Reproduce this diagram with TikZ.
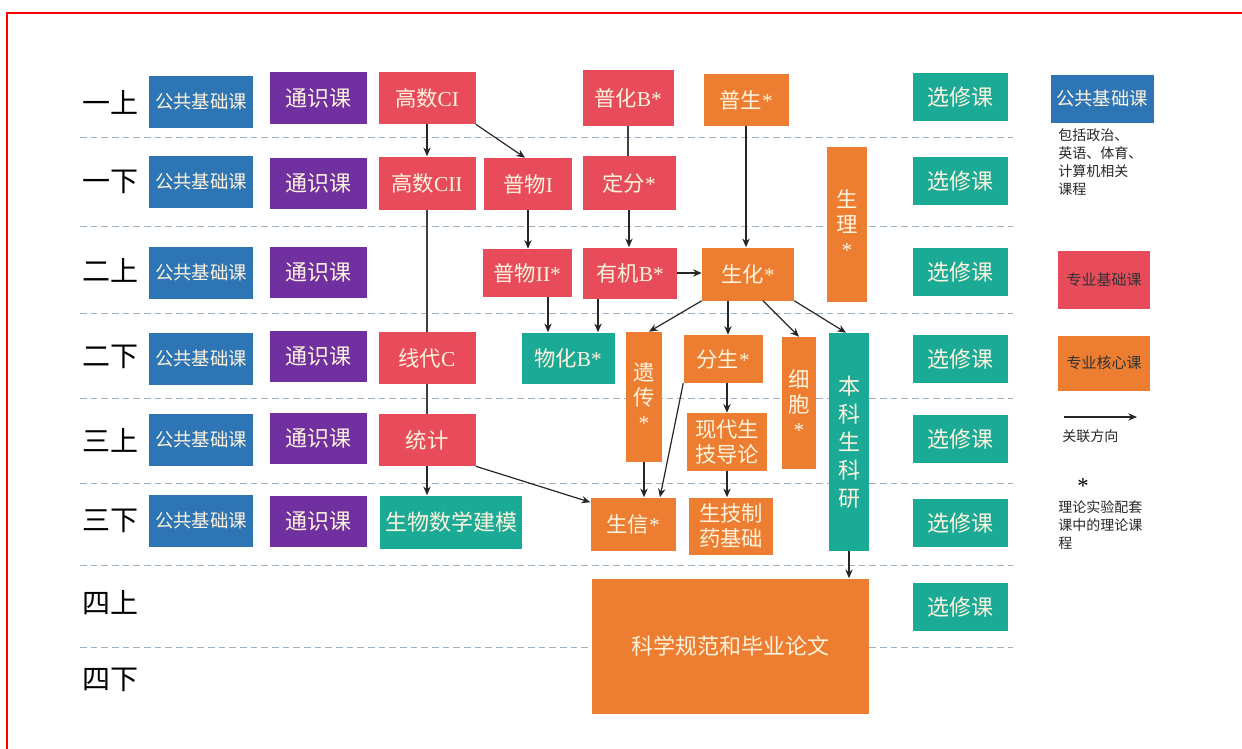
\documentclass[tikz,border=0pt]{standalone}
\usepackage{fontspec}
\setmainfont{Noto Sans CJK SC}
\newfontfamily\latserif{Liberation Serif}
\newcommand\serifpart[1]{{\latserif #1}}
\usetikzlibrary{arrows.meta,calc}
\definecolor{pubblue}{HTML}{2E75B6}
\definecolor{genpurple}{HTML}{7030A0}
\definecolor{basered}{HTML}{E84C5B}
\definecolor{coreorange}{HTML}{ED7D31}
\definecolor{electeal}{HTML}{1BAA95}
\definecolor{boxtext}{HTML}{FFF4DE}
\definecolor{rowline}{HTML}{9DB0C2}
\tikzset{
  sz/.style 2 args={minimum width=#1*0.75pt, minimum height=#2*0.75pt},
  course/.style={inner sep=0pt, text=boxtext, align=center, font=\fontsize{16}{18.75}\selectfont},
  pubbox/.style={course, fill=pubblue, font=\fontsize{13.8}{16}\selectfont},
  genbox/.style={course, fill=genpurple, font=\fontsize{16.5}{19}\selectfont},
  basebox/.style={course, fill=basered},
  corebox/.style={course, fill=coreorange},
  elecbox/.style={course, fill=electeal, font=\fontsize{16.5}{19}\selectfont},
  rowlab/.style={font=\fontsize{21}{24}\selectfont, inner sep=0pt},
  legtext/.style={font=\fontsize{10.5}{13.5}\selectfont, text=black!85, align=left, inner sep=0pt},
  arr/.style={draw=black!85, line width=0.9pt, -{Stealth[length=6.5pt,width=5.5pt]}},
  link/.style={draw=black!75, line width=0.8pt},
}
\begin{document}
\begin{tikzpicture}[x=0.75pt,y=-0.75pt]
  \useasboundingbox (0,0) rectangle (1242,749);
  \draw[red, line width=2.2pt] (7,749) -- (7,13) -- (1242,13);
  % semester separators
  \foreach \yy in {137,226,313,398,483,565,647}
    \draw[rowline, dashed, dash pattern=on 5pt off 3pt, line width=0.6pt] (80,\yy) -- (1013,\yy);
  % semester labels
  \node[rowlab] (r1) at (110,102) {一上};
  \node[rowlab] (r2) at (110,182) {一下};
  \node[rowlab] (r3) at (110,270) {二上};
  \node[rowlab] (r4) at (110,357) {二下};
  \node[rowlab] (r5) at (110,440) {三上};
  \node[rowlab] (r6) at (110,521) {三下};
  \node[rowlab] (r7) at (110,603) {四上};
  \node[rowlab] (r8) at (110,680) {四下};
  % public and general courses
  \foreach \yy/\n in {102/1,182/2,273/3,359/4,440/5,521/6}
    \node[pubbox, sz={104}{52}] (pub\n) at (201,\yy) {公共基础课};
  \foreach \yy/\n in {98/1,183/2,272/3,356/4,438/5,521/6}
    \node[genbox, sz={97}{51}] (gen\n) at (318,\yy) {通识课};
  % electives
  \foreach \yy/\n in {97/1,181/2,272/3,359/4,439/5,523/6,607/7}
    \node[elecbox, sz={95}{48}] (elec\n) at (960,\yy) {选修课};
  % basic courses
  \node[basebox, sz={97}{52}] (gs1) at (427,98) {高数\serifpart{CI}};
  \node[basebox, sz={97}{53}] (gs2) at (427,183) {高数\serifpart{CII}};
  \node[basebox, sz={97}{52}] (xd) at (427,358) {线代\serifpart{C}};
  \node[basebox, sz={97}{52}] (tj) at (427,440) {统计};
  \node[elecbox, sz={142}{53}] (jm) at (451,522) {生物数学建模};
  \node[basebox, sz={88}{52}] (pw1) at (528,184) {普物\serifpart{I}};
  \node[basebox, sz={89}{48}] (pw2) at (527,273) {普物\serifpart{II*}};
  \node[basebox, sz={91}{55}] (phb) at (628,98) {普化\serifpart{B*}};
  \node[basebox, sz={93}{54}] (df) at (629,183) {定分\serifpart{*}};
  \node[basebox, sz={94}{51}] (yj) at (630,273) {有机\serifpart{B*}};
  \node[elecbox, sz={93}{51}, font=\fontsize{16}{18.75}\selectfont] (wh) at (568,358) {物化\serifpart{B*}};
  % core courses
  \node[corebox, sz={85}{51}] (ps) at (746,100) {普生\serifpart{*}};
  \node[corebox, sz={92}{53}] (sh) at (748,274) {生化\serifpart{*}};
  \node[corebox, sz={40}{155}] (sl) at (847,224) {生\\理\\\serifpart{*}};
  \node[corebox, sz={36}{130}] (yc) at (644,397) {遗\\传\\\serifpart{*}};
  \node[corebox, sz={79}{48}] (fs) at (723,359) {分生\serifpart{*}};
  \node[corebox, sz={34}{132}] (xb) at (799,403) {细\\胞\\\serifpart{*}};
  \node[elecbox, sz={40}{218}, font=\fontsize{16.5}{21}\selectfont] (bk) at (849,442) {本\\科\\生\\科\\研};
  \node[corebox, sz={80}{58}] (xdsj) at (727,442) {现代生\\技导论};
  \node[corebox, sz={85}{53}] (sx) at (633,524) {生信\serifpart{*}};
  \node[corebox, sz={84}{57}] (sj) at (731,526) {生技制\\药基础};
  \node[corebox, sz={277}{135}, font=\fontsize{16.5}{19}\selectfont] (kx) at (730,646) {科学规范和毕业论文};
  % links
  \draw[arr] (gs1.south) -- (gs2.north);
  \draw[arr] (gs1.south east) -- ($(pw1.north)+(-3,0)$);
  \draw[link] (phb.south) -- (phb.south |- df.north);
  \draw[arr] (ps.south) -- (ps.south |- sh.north);
  \draw[arr] (pw1.south) -- (pw1.south |- pw2.north);
  \draw[arr] (df.south) -- (df.south |- yj.north);
  \draw[arr] (yj.east) -- (yj.east -| sh.west);
  \draw[link] (gs2.south) -- (xd.north);
  \draw[link] (xd.south) -- (tj.north);
  \draw[arr] (tj.south) -- (tj.south |- jm.north);
  \draw[arr] (tj.south east) -- ($(sx.north west)+(0,5)$);
  \coordinate (whL) at ($(wh.north)+(-20,0)$);
  \coordinate (whR) at ($(wh.north)+(30,0)$);
  \draw[arr] (pw2.south -| whL) -- (whL);
  \draw[arr] (yj.south -| whR) -- (whR);
  \draw[arr] (sh.south west) -- ($(yc.north)+(5,0)$);
  \coordinate (fsT) at ($(fs.north)+(5,0)$);
  \draw[arr] (sh.south -| fsT) -- (fsT);
  \draw[arr] ($(sh.south)+(15,0)$) -- (xb.north);
  \draw[arr] (sh.south east) -- ($(bk.north)+(-3,0)$);
  \draw[arr] (yc.south) -- (yc.south |- sx.north);
  \draw[arr] (fs.south west) -- ($(sx.north)+(27,0)$);
  \draw[arr] (xdsj.north |- fs.south) -- (xdsj.north);
  \draw[arr] (xdsj.south) -- (xdsj.south |- sj.north);
  \draw[arr] (bk.south) -- (bk.south |- kx.north);
  % legend
  \node[pubbox, sz={103}{47}] (legpub) at (1102,99) {公共基础课};
  \node[legtext, anchor=north west] (legpubtxt) at (1058,128) {包括政治、\\英语、体育、\\计算机相关\\课程};
  \node[basebox, sz={92}{58}, text=black!80, font=\fontsize{11.25}{13.5}\selectfont] (legbase) at (1104,280) {专业基础课};
  \node[corebox, sz={92}{55}, text=black!80, font=\fontsize{11.25}{13.5}\selectfont] (legcore) at (1104,363) {专业核心课};
  \coordinate (legA) at (1064,417);
  \coordinate (legB) at (1137,417);
  \draw[arr] (legA) -- (legB);
  \node[legtext, anchor=west] (legarr) at (1062,436) {关联方向};
  \node[font=\fontsize{17}{17}\selectfont\latserif, inner sep=0pt] (legstar) at (1083,486) {*};
  \node[legtext, anchor=north west] (legstartxt) at (1058,500) {理论实验配套\\课中的理论课\\程};
\end{tikzpicture}
\end{document}
